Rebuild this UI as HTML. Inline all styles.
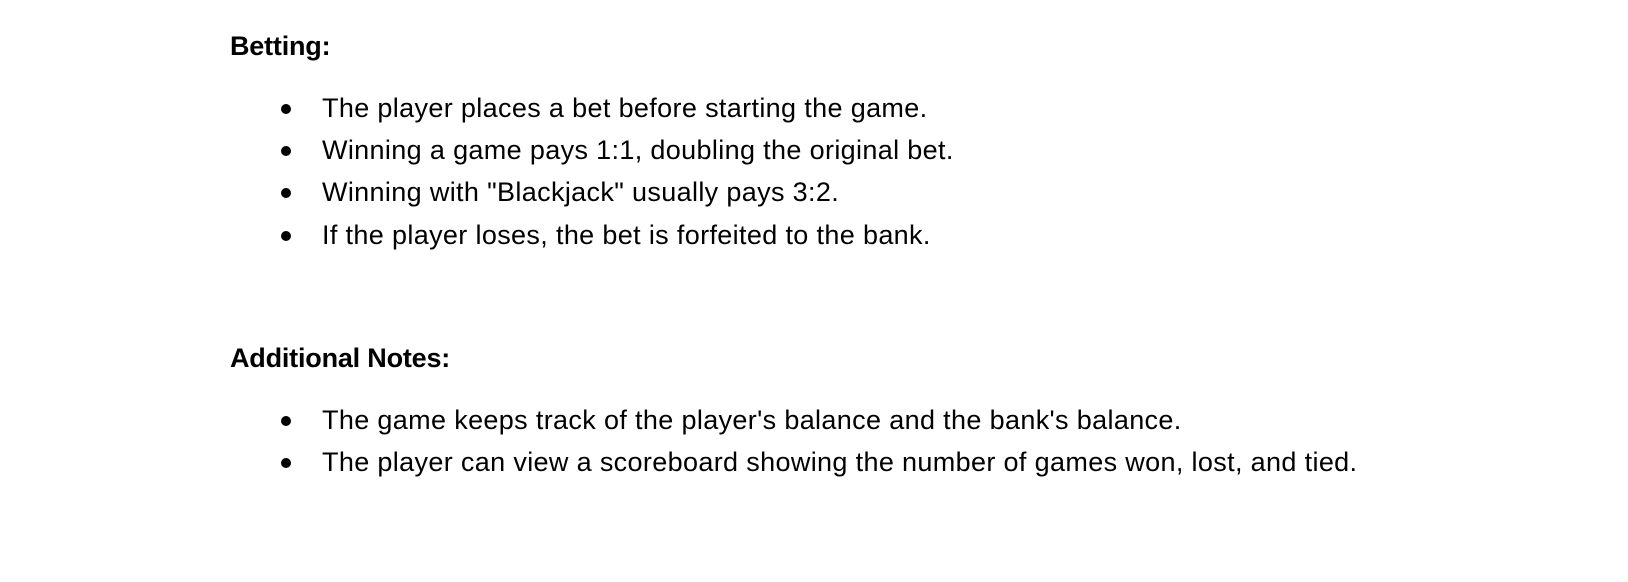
<!DOCTYPE html>
<html>
<head>
<meta charset="utf-8">
<style>
  html, body { margin:0; padding:0; background:#fff; }
  body { width:1628px; height:582px; position:relative; overflow:hidden;
         font-family:"Liberation Sans", Arial, sans-serif; color:#000; }
  .line { position:absolute; font-size:27px; line-height:27px; white-space:nowrap; }
  .head { left:230px; font-weight:bold; letter-spacing:-0.2px; }
  .item { left:322px; letter-spacing:0.35px; }
  .dot { position:absolute; left:281px; width:10px; height:10px; border-radius:50%; background:#000; }
</style>
</head>
<body>
  <div class="line head" style="top:33px">Betting:</div>

  <div class="dot" style="top:104px"></div>
  <div class="line item" style="top:95px">The player places a bet before starting the game.</div>
  <div class="dot" style="top:146px"></div>
  <div class="line item" style="top:137px">Winning a game pays 1:1, doubling the original bet.</div>
  <div class="dot" style="top:188px"></div>
  <div class="line item" style="top:179px">Winning with "Blackjack" usually pays 3:2.</div>
  <div class="dot" style="top:231px"></div>
  <div class="line item" style="top:222px">If the player loses, the bet is forfeited to the bank.</div>

  <div class="line head" style="top:345px">Additional Notes:</div>

  <div class="dot" style="top:416px"></div>
  <div class="line item" style="top:407px">The game keeps track of the player's balance and the bank's balance.</div>
  <div class="dot" style="top:458px"></div>
  <div class="line item" style="top:449px">The player can view a scoreboard showing the number of games won, lost, and tied.</div>
</body>
</html>
